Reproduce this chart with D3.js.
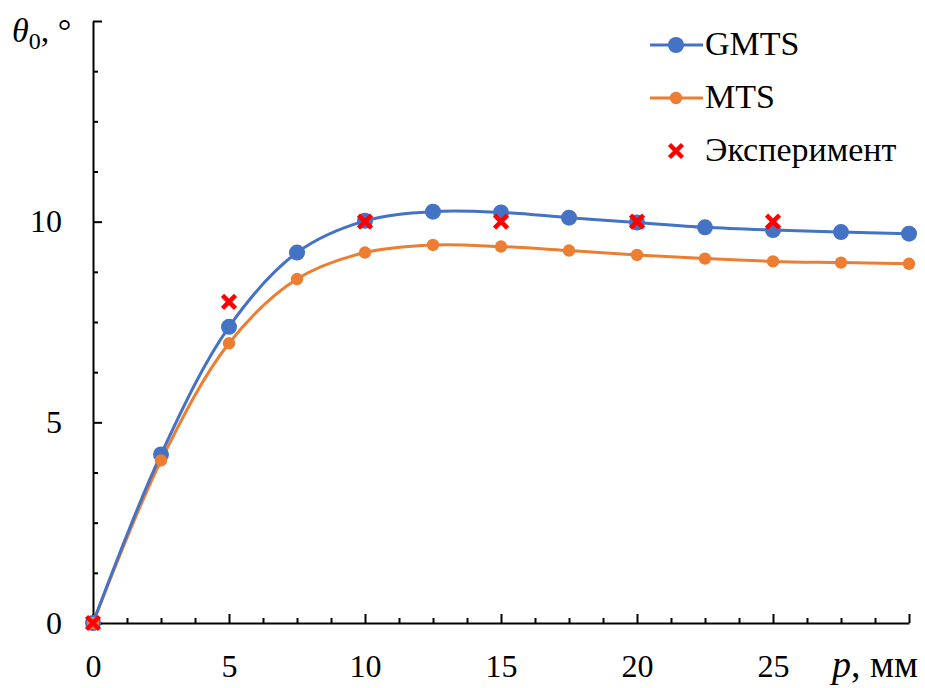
<!DOCTYPE html>
<html>
<head>
<meta charset="utf-8">
<script src="https://cdn.jsdelivr.net/npm/d3@7"></script>
<style>
  html, body { margin: 0; padding: 0; background: #fff; }
  svg text { font-family: "Liberation Serif", "Times New Roman", serif; fill: #000; }
</style>
</head>
<body>
<svg id="chart" width="925" height="688"></svg>
<script>
// Crack angle θ0 versus p (mm): GMTS and MTS criteria against experiment
const pValues   = [0, 2.5, 5, 7.5, 10, 12.5, 15, 17.5, 20, 22.5, 25, 27.5, 30];
const gmtsTheta = [0, 4.2, 7.38, 9.23, 10.02, 10.25, 10.23, 10.1, 9.98, 9.86, 9.79, 9.74, 9.7];
const mtsTheta  = [0, 4.05, 6.97, 8.57, 9.23, 9.42, 9.38, 9.28, 9.17, 9.08, 9.01, 8.98, 8.95];
const expP      = [0, 5, 10, 15, 20, 25];
const expTheta  = [0, 8, 10, 10, 10, 10];
const xMajorTicks = [0, 5, 10, 15, 20, 25, 30];
const xTickLabels = ["0", "5", "10", "15", "20", "25", ""];
const yMajorTicks = [0, 5, 10, 15];
const yTickLabels = ["0", "5", "10", ""];
const legendNames = ["GMTS", "MTS", "Эксперимент"];

const BLUE = "#4472C4", ORANGE = "#ED7D31", RED = "#FF0000";
const SERIF = '"Liberation Serif", "Times New Roman", serif';

const svg = d3.select("#chart");
const x = d3.scaleLinear().domain([0, 30]).range([93, 909]);
const y = d3.scaleLinear().domain([0, 15]).range([623, 21]);

const minorStep = 1.25;
const isMajor = v => Math.abs(v / 5 - Math.round(v / 5)) < 1e-6;
const minorX = d3.range(0, 30 + 1e-9, minorStep).filter(v => !isMajor(v));
const minorY = d3.range(0, 15 + 1e-9, minorStep).filter(v => !isMajor(v));

// Minor ticks (inside the plot)
svg.append("g")
  .attr("transform", `translate(0,${y(0)})`)
  .call(d3.axisBottom(x).tickValues(minorX).tickSize(-5).tickFormat(""))
  .call(g => g.select(".domain").remove())
  .selectAll("line").attr("stroke", "#000").attr("stroke-width", 2);
svg.append("g")
  .attr("transform", `translate(${x(0)},0)`)
  .call(d3.axisLeft(y).tickValues(minorY).tickSize(-5).tickFormat(""))
  .call(g => g.select(".domain").remove())
  .selectAll("line").attr("stroke", "#000").attr("stroke-width", 2);

// Major axes with labels
const xAxis = svg.append("g")
  .attr("transform", `translate(0,${y(0)})`)
  .call(d3.axisBottom(x).tickValues(xMajorTicks).tickSizeInner(-9).tickSizeOuter(0)
        .tickPadding(31).tickFormat((d, i) => xTickLabels[i]));
const yAxis = svg.append("g")
  .attr("transform", `translate(${x(0)},0)`)
  .call(d3.axisLeft(y).tickValues(yMajorTicks).tickSizeInner(-9).tickSizeOuter(0)
        .tickPadding(31).tickFormat((d, i) => yTickLabels[i]));
[xAxis, yAxis].forEach(g => {
  g.attr("font-family", SERIF).attr("font-size", 32);
  g.select(".domain").attr("stroke", "#000").attr("stroke-width", 2);
  g.selectAll(".tick line").attr("stroke", "#000").attr("stroke-width", 2);
  g.selectAll(".tick text").style("font-family", SERIF).style("font-size", "32px");
});

// Axis titles
const yTitle = svg.append("text").attr("x", 12).attr("y", 42)
  .style("font-family", SERIF).style("font-size", "34px");
yTitle.append("tspan").attr("font-style", "italic").text("θ");
yTitle.append("tspan").style("font-size", "24px").attr("dy", 7).text("0");
yTitle.append("tspan").attr("dy", -7).text(", °");

const xTitle = svg.append("text").attr("x", 918).attr("y", 677)
  .attr("text-anchor", "end").style("font-family", SERIF).style("font-size", "38px");
xTitle.append("tspan").attr("font-style", "italic").text("p");
xTitle.append("tspan").text(", мм");

// Smoothed series lines
const line = d3.line().x((d, i) => x(pValues[i])).y(d => y(d)).curve(d3.curveCatmullRom.alpha(0.5));
const series = [
  { values: mtsTheta,  color: ORANGE, r: 6.2 },
  { values: gmtsTheta, color: BLUE,   r: 8 }
];
series.forEach(s => {
  svg.append("path").datum(s.values)
    .attr("d", line).attr("fill", "none")
    .attr("stroke", s.color).attr("stroke-width", 3);
});
series.slice().reverse().forEach(s => {
  svg.append("g").selectAll("circle").data(s.values).join("circle")
    .attr("cx", (d, i) => x(pValues[i])).attr("cy", d => y(d))
    .attr("r", s.r).attr("fill", s.color);
});

// Experimental points (red crosses)
function cross(g, cx, cy, h) {
  g.append("path")
    .attr("d", `M${cx - h},${cy - h}L${cx + h},${cy + h}M${cx - h},${cy + h}L${cx + h},${cy - h}`)
    .attr("stroke", RED).attr("stroke-width", 4.5).attr("fill", "none");
}
const expG = svg.append("g");
expP.forEach((p, i) => cross(expG, x(p), y(expTheta[i]), 6.5));

// Legend
const legend = svg.append("g");
const legY = [45, 98, 151];
[[BLUE, 8], [ORANGE, 6.2]].forEach(([c, r], i) => {
  legend.append("line").attr("x1", 650).attr("x2", 703).attr("y1", legY[i]).attr("y2", legY[i])
    .attr("stroke", c).attr("stroke-width", 3);
  legend.append("circle").attr("cx", 676).attr("cy", legY[i]).attr("r", r).attr("fill", c);
});
cross(legend, 676, legY[2], 6.5);
legendNames.forEach((t, i) => {
  legend.append("text").attr("x", 705).attr("y", legY[i] + 10)
    .style("font-family", SERIF).style("font-size", "34px").text(t);
});
</script>
</body>
</html>
